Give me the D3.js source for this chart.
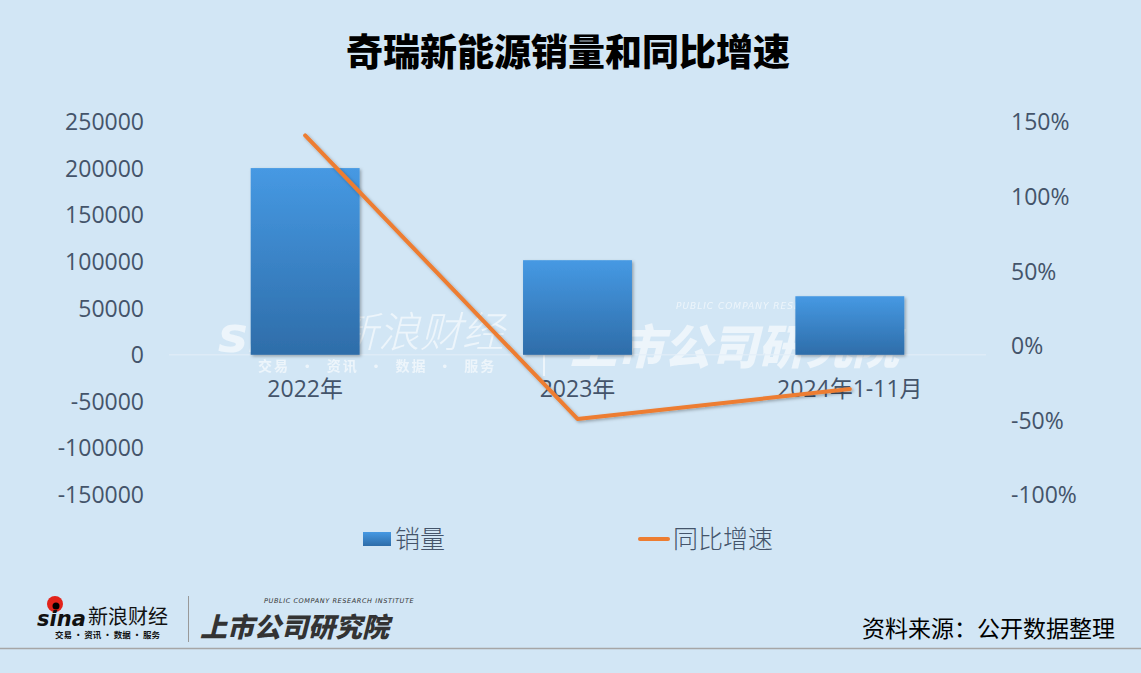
<!DOCTYPE html>
<html>
<head>
<meta charset="utf-8">
<script src="https://cdn.jsdelivr.net/npm/d3@7"></script>
<style>
  html, body { margin: 0; padding: 0; background: #D2E6F5; }
  svg { display: block; }
</style>
</head>
<body>
<svg id="chart" width="1141" height="673"></svg>
<script>
const categories = ["2022年", "2023年", "2024年1-11月"];
const sales = [200500, 101600, 62900];
const growth = [141, -49, -29];
const leftTicks = [250000, 200000, 150000, 100000, 50000, 0, -50000, -100000, -150000];
const rightTicks = [150, 100, 50, 0, -50, -100];
const title = "奇瑞新能源销量和同比增速";
const legendLabels = ["销量", "同比增速"];
const source = "资料来源：公开数据整理";

const W = 1141, H = 673;
const svg = d3.select("#chart");
const fontNum = "'Open Sans', 'Noto Sans CJK SC', sans-serif";
const fontCJK = "'Noto Sans CJK SC', sans-serif";
const axisColor = "#44546A";

svg.append("rect").attr("width", W).attr("height", H).attr("fill", "#D2E6F5");

const defs = svg.append("defs");
const grad = defs.append("linearGradient").attr("id", "barGrad")
  .attr("x1", 0).attr("y1", 0).attr("x2", 0).attr("y2", 1);
grad.append("stop").attr("offset", "0%").attr("stop-color", "#4699E3");
grad.append("stop").attr("offset", "100%").attr("stop-color", "#2E6DA9");
const sh = defs.append("filter").attr("id", "shadow").attr("x", "-20%").attr("y", "-20%").attr("width", "140%").attr("height", "140%");
sh.append("feDropShadow").attr("dx", 1.5).attr("dy", 1.5).attr("stdDeviation", 1.5).attr("flood-color", "#000").attr("flood-opacity", 0.3);

// Title
svg.append("text").attr("x", 568).attr("y", 66).attr("text-anchor", "middle")
  .attr("font-family", fontCJK).attr("font-weight", 900).attr("font-size", 37)
  .attr("fill", "#000").text(title);

// Scales
const x = d3.scaleBand().domain(categories).range([169, 986]).paddingInner(0.6).paddingOuter(0.3);
const yL = d3.scaleLinear().domain([-150000, 250000]).range([494.5, 122]);
const yR = d3.scaleLinear().domain([-100, 150]).range([495, 122]);

// Watermark (behind marks)
const wm = svg.append("g").attr("fill", "#ffffff").attr("opacity", 0.6);
wm.append("text").attr("x", 218).attr("y", 352).attr("font-family", "'DejaVu Sans', sans-serif")
  .attr("font-weight", "bold").attr("font-style", "italic").attr("font-size", 50).text("sina");
wm.append("text").attr("x", 336).attr("y", 347).attr("font-family", fontCJK)
  .attr("font-style", "italic").attr("font-weight", 300).attr("font-size", 42).text("新浪财经");
wm.append("text").attr("x", 258).attr("y", 371).attr("font-family", fontCJK)
  .attr("font-weight", 700).attr("font-size", 14).attr("xml:space", "preserve").attr("letter-spacing", 2)
  .text("交易  ·  资讯  ·  数据  ·  服务");
wm.append("rect").attr("x", 543).attr("y", 340).attr("width", 2).attr("height", 36);
wm.append("text").attr("x", 570).attr("y", 364).attr("font-family", fontCJK)
  .attr("font-weight", 900).attr("font-style", "italic").attr("font-size", 47).text("上市公司研究院");
wm.append("text").attr("x", 676).attr("y", 309).attr("font-family", "'DejaVu Sans', sans-serif")
  .attr("font-style", "italic").attr("font-size", 9).attr("letter-spacing", 1).text("PUBLIC COMPANY RESEARCH INSTITUTE");

// Zero line
svg.append("line").attr("x1", 169).attr("x2", 986).attr("y1", yL(0)).attr("y2", yL(0))
  .attr("stroke", "#E3EEF8").attr("stroke-width", 1);

// Left axis
const axL = d3.axisLeft(yL).tickValues(leftTicks).tickSize(0).tickPadding(0).tickFormat(d => String(d));
const gL = svg.append("g").attr("transform", "translate(144,0)").call(axL);
gL.select(".domain").remove();
gL.selectAll("text").attr("font-family", fontNum).attr("font-size", 23).attr("fill", axisColor).attr("dy", "0.34em");

// Right axis
const axR = d3.axisRight(yR).tickValues(rightTicks).tickSize(0).tickPadding(0).tickFormat(d => d + "%");
const gR = svg.append("g").attr("transform", "translate(1011,0)").call(axR);
gR.select(".domain").remove();
gR.selectAll("text").attr("font-family", fontNum).attr("font-size", 23).attr("fill", axisColor).attr("dy", "0.34em");

// Bars
svg.append("g").selectAll("rect").data(categories).join("rect")
  .attr("x", d => x(d))
  .attr("width", x.bandwidth())
  .attr("y", (d, i) => yL(Math.max(0, sales[i])))
  .attr("height", (d, i) => Math.abs(yL(sales[i]) - yL(0)))
  .attr("fill", "url(#barGrad)")
  .attr("filter", "url(#shadow)");

// Category labels
svg.append("g").selectAll("text").data(categories).join("text")
  .attr("x", d => x(d) + x.bandwidth() / 2)
  .attr("y", 397)
  .attr("text-anchor", "middle")
  .attr("font-family", fontNum).attr("font-size", 23).attr("fill", axisColor)
  .text(d => d);

// Line
const line = d3.line().x((d, i) => x(categories[i]) + x.bandwidth() / 2).y(d => yR(d));
svg.append("path").datum(growth).attr("d", line)
  .attr("fill", "none").attr("stroke", "#ED7D31").attr("stroke-width", 4)
  .attr("stroke-linecap", "round").attr("stroke-linejoin", "round")
  .attr("filter", "url(#shadow)");

// Legend
const lg = svg.append("g");
lg.append("rect").attr("x", 363).attr("y", 532).attr("width", 28).attr("height", 14).attr("fill", "url(#barGrad)");
lg.append("text").attr("x", 395).attr("y", 548).attr("font-family", fontCJK).attr("font-weight", 300)
  .attr("font-size", 25).attr("fill", axisColor).text(legendLabels[0]);
lg.append("line").attr("x1", 640).attr("x2", 668).attr("y1", 539).attr("y2", 539)
  .attr("stroke", "#ED7D31").attr("stroke-width", 4).attr("stroke-linecap", "round");
lg.append("text").attr("x", 673).attr("y", 548).attr("font-family", fontCJK).attr("font-weight", 300)
  .attr("font-size", 25).attr("fill", axisColor).text(legendLabels[1]);

// Footer
const ft = svg.append("g");
ft.append("circle").attr("cx", 55).attr("cy", 604).attr("r", 8).attr("fill", "#E2231A");
ft.append("circle").attr("cx", 56).attr("cy", 606).attr("r", 3.5).attr("fill", "#000");
ft.append("text").attr("x", 37).attr("y", 626).attr("font-family", "'DejaVu Sans', sans-serif")
  .attr("font-weight", "bold").attr("font-style", "italic").attr("font-size", 21).attr("fill", "#111").text("sina");
ft.append("text").attr("x", 88).attr("y", 624).attr("font-family", fontCJK).attr("font-weight", 400)
  .attr("font-size", 20).attr("fill", "#111").text("新浪财经");
ft.append("text").attr("x", 55).attr("y", 638).attr("font-family", fontCJK).attr("font-weight", 700)
  .attr("font-size", 8.5).attr("fill", "#111").attr("xml:space", "preserve").text("交易 · 资讯 · 数据 · 服务");
ft.append("rect").attr("x", 188).attr("y", 596).attr("width", 1).attr("height", 46).attr("fill", "#999");
ft.append("text").attr("x", 264).attr("y", 603).attr("font-family", "'DejaVu Sans', sans-serif")
  .attr("font-style", "italic").attr("font-size", 6.5).attr("letter-spacing", 0.6).attr("fill", "#333")
  .text("PUBLIC COMPANY RESEARCH INSTITUTE");
ft.append("text").attr("x", 200).attr("y", 637).attr("font-family", fontCJK).attr("font-weight", 900)
  .attr("font-style", "italic").attr("font-size", 27).attr("fill", "#333").text("上市公司研究院");
ft.append("text").attr("x", 1115).attr("y", 637).attr("text-anchor", "end").attr("font-family", fontCJK)
  .attr("font-weight", 400).attr("font-size", 23).attr("fill", "#000").text(source);
ft.append("line").attr("x1", 0).attr("x2", W).attr("y1", 648.5).attr("y2", 648.5)
  .attr("stroke", "#A6A6A6").attr("stroke-width", 1.5);
</script>
</body>
</html>
